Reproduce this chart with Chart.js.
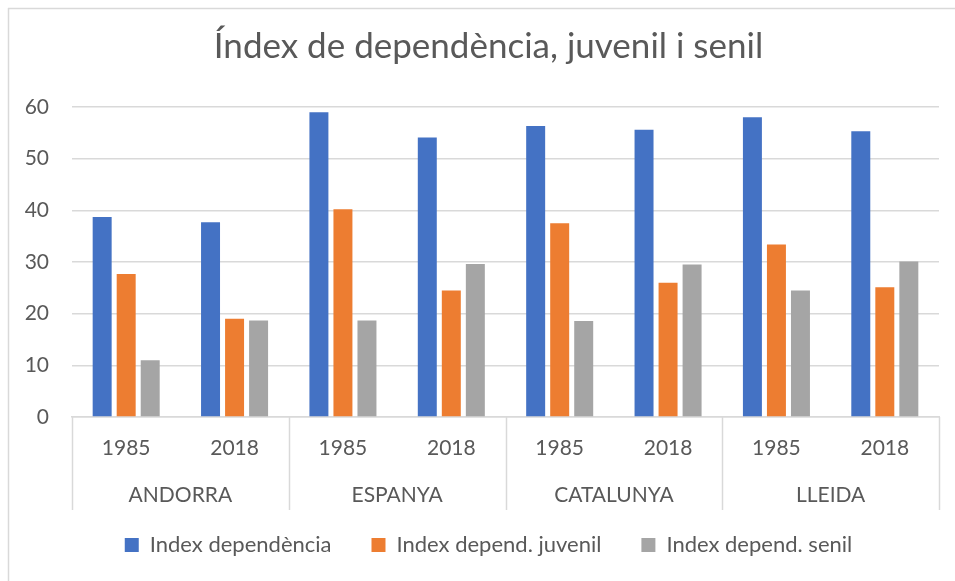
<!DOCTYPE html>
<html>
<head>
<meta charset="utf-8">
<script src="https://cdn.jsdelivr.net/npm/chart.js@4"></script>
<style>
  html, body { margin: 0; padding: 0; background: #ffffff; }
  #wrap { width: 955px; height: 581px; position: relative; }
</style>
</head>
<body>
<div id="wrap"><canvas id="c" width="955" height="581"></canvas></div>
<script>
const titleText = 'Índex de dependència, juvenil i senil';
const years = ['1985', '2018', '1985', '2018', '1985', '2018', '1985', '2018'];
const regions = ['ANDORRA', 'ESPANYA', 'CATALUNYA', 'LLEIDA'];
const seriesNames = ['Index dependència', 'Index depend. juvenil', 'Index depend. senil'];
const indexDependencia = [38.7, 37.7, 59.0, 54.1, 56.3, 55.6, 58.0, 55.3];
const indexJuvenil = [27.7, 19.0, 40.2, 24.5, 37.5, 26.0, 33.4, 25.1];
const indexSenil = [11.0, 18.7, 18.7, 29.6, 18.6, 29.5, 24.5, 30.1];
const yTicks = [0, 10, 20, 30, 40, 50, 60];

const FONT = 'Lato';
const TXT = '#595959';
const LINE = '#d9d9d9';

const groupPlugin = {
  id: 'groupPlugin',
  beforeDraw(chart) {
    const ctx = chart.ctx;
    ctx.save();
    ctx.strokeStyle = LINE;
    ctx.lineWidth = 1.5;
    ctx.beginPath();
    ctx.moveTo(8, 8.5);
    ctx.lineTo(chart.width, 8.5);
    ctx.moveTo(8.5, 8);
    ctx.lineTo(8.5, chart.height);
    ctx.stroke();
    ctx.restore();
  },
  afterDraw(chart) {
    const ctx = chart.ctx;
    const x = chart.scales.x;
    const area = chart.chartArea;
    const top = area.bottom;
    const bottom = area.bottom + 93;
    ctx.save();
    ctx.strokeStyle = LINE;
    ctx.lineWidth = 1.5;
    ctx.beginPath();
    const bounds = [area.left];
    for (let g = 1; g < regions.length; g++) {
      bounds.push((x.getPixelForValue(2 * g - 1) + x.getPixelForValue(2 * g)) / 2);
    }
    bounds.push(area.right);
    bounds.forEach(b => {
      ctx.moveTo(Math.round(b) + 0.5, top);
      ctx.lineTo(Math.round(b) + 0.5, bottom);
    });
    ctx.stroke();
    ctx.fillStyle = TXT;
    ctx.font = '21px ' + FONT;
    ctx.textAlign = 'center';
    ctx.textBaseline = 'middle';
    regions.forEach((r, g) => {
      const cx = (x.getPixelForValue(2 * g) + x.getPixelForValue(2 * g + 1)) / 2;
      ctx.fillText(r, cx, area.bottom + 78);
    });
    ctx.restore();
  }
};

new Chart(document.getElementById('c'), {
  type: 'bar',
  data: {
    labels: years,
    datasets: [
      { label: seriesNames[0], data: indexDependencia, backgroundColor: '#4472C4' },
      { label: seriesNames[1], data: indexJuvenil, backgroundColor: '#ED7D31' },
      { label: seriesNames[2], data: indexSenil, backgroundColor: '#A5A5A5' }
    ]
  },
  options: {
    responsive: false,
    animation: false,
    layout: { padding: { left: 22, right: 0, top: 0, bottom: 15 } },
    datasets: { bar: { categoryPercentage: 0.665, barPercentage: 0.79 } },
    plugins: {
      title: {
        display: true,
        text: titleText,
        color: TXT,
        font: { family: FONT, size: 35, weight: 'normal' },
        padding: { top: 26, bottom: 39 }
      },
      legend: {
        position: 'bottom',
        labels: {
          color: TXT,
          font: { family: FONT, size: 22 },
          boxWidth: 14,
          boxHeight: 14,
          padding: 40
        }
      },
      tooltip: { enabled: false }
    },
    scales: {
      x: {
        grid: { display: false, drawTicks: false },
        border: { display: true, color: LINE, width: 1.5 },
        ticks: { color: TXT, font: { family: FONT, size: 21 }, padding: 19, maxRotation: 0 },
        afterFit(s) { s.height = 77; }
      },
      y: {
        min: 0, max: 60,
        afterBuildTicks(s) { s.ticks = yTicks.map(v => ({ value: v })); },
        grid: { color: LINE, lineWidth: 1.5, drawTicks: false },
        border: { display: false },
        ticks: { color: TXT, font: { family: FONT, size: 21 }, padding: 23 },
        afterFit(s) { s.width = 50; }
      },
      spacer: {
        type: 'linear',
        position: 'right',
        display: true,
        grid: { display: false, drawTicks: false },
        border: { display: false },
        ticks: { display: false },
        afterFit(s) { s.width = 16; }
      }
    }
  },
  plugins: [groupPlugin]
});
</script>
</body>
</html>
